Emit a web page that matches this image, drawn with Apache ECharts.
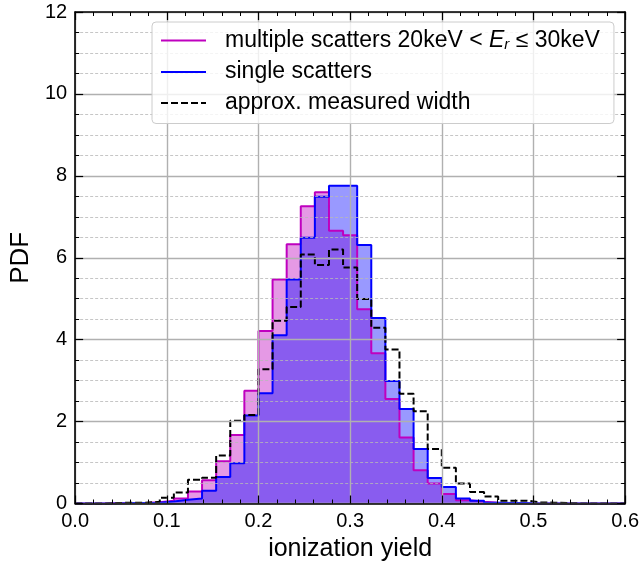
<!DOCTYPE html>
<html>
<head>
<meta charset="utf-8">
<script src="https://cdn.jsdelivr.net/npm/echarts@6/dist/echarts.min.js"></script>
<style>
html,body{margin:0;padding:0;background:#fff;}
#chart{width:642px;height:575px;}
</style>
</head>
<body>
<div id="chart"></div>
<script>
// Histogram binning (39 equal bins from 0 to 0.6)
var binLow = 0.0;
var binHigh = 0.6;
var nBins = 39;

// PDF values per bin
var multipleScatters = [0, 0, 0.01, 0.01, 0.01, 0.03, 0.07, 0.12, 0.29, 0.57,
  1.03, 1.67, 2.75, 4.21, 5.47, 6.33, 7.26, 7.60, 6.66, 6.55,
  4.74, 3.67, 2.55, 1.61, 0.81, 0.49, 0.23, 0.08, 0.04, 0.02,
  0.01, 0, 0, 0, 0, 0, 0, 0, 0];
var singleScatters = [0, 0, 0, 0.01, 0.01, 0.02, 0.05, 0.09, 0.12, 0.31,
  0.65, 0.98, 2.15, 2.69, 4.11, 5.47, 6.49, 7.49, 7.76, 7.76,
  6.31, 4.53, 2.99, 2.31, 1.33, 0.62, 0.40, 0.12, 0.07, 0.02,
  0.01, 0.01, 0, 0, 0, 0, 0, 0, 0];
var measuredWidth = [0, 0, 0.01, 0.02, 0.02, 0.04, 0.14, 0.27, 0.58, 0.63,
  1.17, 2.02, 2.16, 3.28, 4.46, 4.80, 6.08, 5.82, 6.20, 5.76,
  4.99, 4.29, 3.76, 2.68, 2.25, 1.33, 0.87, 0.49, 0.28, 0.17,
  0.07, 0.07, 0.03, 0.02, 0.01, 0, 0, 0, 0];

var xTickLabels = ['0.0', '0.1', '0.2', '0.3', '0.4', '0.5', '0.6'];
var yTickLabels = ['0', '2', '4', '6', '8', '10', '12'];

var seriesNames = ['multiple scatters', 'single scatters', 'approx. measured width'];

// bin edges
var edges = [];
for (var i = 0; i <= nBins; i++) edges.push(binLow + (binHigh - binLow) * i / nBins);

function stepData(vals) {
  var d = [];
  for (var k = 0; k < vals.length; k++) d.push([edges[k], vals[k]]);
  d.push([edges[vals.length], vals[vals.length - 1]]);
  return d;
}

var FONT = '"Liberation Sans", Arial, sans-serif';

var chart = echarts.init(document.getElementById('chart'), null, {renderer: 'canvas'});

function xAx(pos, showLabels) {
  return {
    type: 'value', position: pos, min: 0, max: 0.6, interval: 0.1, z: 5,
    axisLine: {show: true, onZero: false, lineStyle: {color: '#000', width: 1.6}},
    axisTick: {show: true, inside: true, length: 8, lineStyle: {color: '#000', width: 1.2}},
    minorTick: {show: true, splitNumber: 5, length: 4, lineStyle: {color: '#000', width: 1}},
    splitLine: {show: showLabels, lineStyle: {color: '#b0b0b0', width: 1.4}},
    axisLabel: {show: showLabels, fontFamily: FONT, fontSize: 20, color: '#000', margin: 8,
      formatter: function (v) { return xTickLabels[Math.round(v * 10)]; }},
    name: showLabels ? 'ionization yield' : '',
    nameLocation: 'middle', nameGap: 31,
    nameTextStyle: {fontFamily: FONT, fontSize: 25, color: '#000'}
  };
}
function yAx(pos, showLabels) {
  return {
    type: 'value', position: pos, min: 0, max: 12, interval: 2, z: 5,
    axisLine: {show: true, onZero: false, lineStyle: {color: '#000', width: 1.6}},
    axisTick: {show: true, inside: true, length: 8, lineStyle: {color: '#000', width: 1.2}},
    minorTick: {show: true, splitNumber: 4, length: 4, lineStyle: {color: '#000', width: 1}},
    splitLine: {show: showLabels, lineStyle: {color: '#b0b0b0', width: 1.4}},
    minorSplitLine: {show: showLabels, lineStyle: {color: '#b8b8b8', width: 0.8, type: [3, 2]}},
    axisLabel: {show: showLabels, fontFamily: FONT, fontSize: 20, color: '#000', margin: 8,
      formatter: function (v) { return yTickLabels[Math.round(v / 2)]; }},
    name: showLabels ? 'PDF' : '',
    nameLocation: 'middle', nameGap: 34,
    nameTextStyle: {fontFamily: FONT, fontSize: 26, color: '#000'}
  };
}

var option = {
  animation: false,
  backgroundColor: '#fff',
  grid: {left: 71, right: 15, top: 12, bottom: 71.5, containLabel: false},
  xAxis: [xAx('bottom', true), xAx('top', false)],
  yAxis: [yAx('left', true), yAx('right', false)],
  legend: {
    orient: 'vertical', left: 152, top: 22, z: 10,
    padding: [7, 14, 9, 8],
    itemWidth: 45, itemHeight: 14, itemGap: 8,
    backgroundColor: 'rgba(255,255,255,0.8)', borderColor: '#cccccc', borderWidth: 1, borderRadius: 4,
    itemStyle: {color: 'rgba(0,0,0,0)', borderWidth: 0, opacity: 0},
    data: seriesNames,
    formatter: function (name) {
      if (name === seriesNames[0]) {
        return '{sp| }{n|multiple scatters 20keV < }{i|E}{s|r}{n| ≤ 30keV}';
      }
      return '{sp| }{n|' + name + '}';
    },
    textStyle: {
      fontFamily: FONT, fontSize: 23, color: '#000',
      rich: {
        sp: {width: 14},
        n: {fontFamily: FONT, fontSize: 23, color: '#000', lineHeight: 24},
        i: {fontFamily: FONT, fontSize: 23, fontStyle: 'italic', color: '#000', lineHeight: 24},
        s: {fontFamily: FONT, fontSize: 15, fontStyle: 'italic', color: '#000', verticalAlign: 'bottom', lineHeight: 24, padding: [8, 0, 0, 0]}
      }
    }
  },
  series: [
    {
      name: seriesNames[0], type: 'line', step: 'end', symbol: 'none', z: 2,
      data: stepData(multipleScatters),
      lineStyle: {color: '#bf00bf', width: 2},
      itemStyle: {color: '#bf00bf'},
      areaStyle: {color: 'rgba(191,0,191,0.4)', opacity: 1, origin: 'start'}
    },
    {
      name: seriesNames[1], type: 'line', step: 'end', symbol: 'none', z: 2,
      data: stepData(singleScatters),
      lineStyle: {color: '#0000ff', width: 2},
      itemStyle: {color: '#0000ff'},
      areaStyle: {color: 'rgba(0,0,255,0.4)', opacity: 1, origin: 'start'}
    },
    {
      name: seriesNames[2], type: 'line', step: 'end', symbol: 'none', z: 3,
      data: stepData(measuredWidth),
      lineStyle: {color: '#000', width: 2, type: [7, 3]},
      itemStyle: {color: '#000'}
    }
  ]
};
chart.setOption(option);
</script>
</body>
</html>
